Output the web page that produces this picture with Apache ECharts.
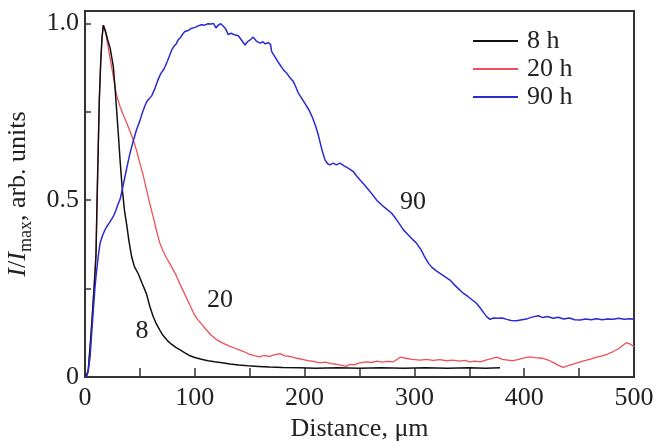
<!DOCTYPE html>
<html>
<head>
<meta charset="utf-8">
<script src="https://cdn.jsdelivr.net/npm/echarts@6/dist/echarts.min.js"></script>
<style>
  html, body { margin: 0; padding: 0; background: #fff; }
  #chart { width: 656px; height: 443px; }
</style>
</head>
<body>
<div id="chart"></div>
<script>
// distance (um) vs normalised intensity
var curve8h = [
  [0, 0], [2, 0.01], [3, 0.02], [5, 0.1], [7, 0.19], [9, 0.29], [10, 0.345], [11, 0.5], [12, 0.64],
  [13, 0.78], [14.3, 0.89], [15.5, 0.96], [16.7, 0.995], [17.5, 1.0], [18.5, 0.98], [20.5, 0.955],
  [22.9, 0.93], [25.8, 0.878], [27.3, 0.82], [28.8, 0.755], [30.5, 0.68], [32, 0.61], [34, 0.53],
  [36, 0.47], [38, 0.43], [40, 0.385], [42.5, 0.34], [45, 0.312], [48.5, 0.292], [52, 0.265],
  [56, 0.235], [59, 0.2], [62, 0.172], [65, 0.15], [68, 0.133], [71, 0.118], [75, 0.103],
  [79, 0.092], [83, 0.083], [87, 0.076], [91, 0.068], [95, 0.061], [100, 0.055], [106, 0.05],
  [112, 0.046], [118, 0.043], [125, 0.04], [132, 0.037], [140, 0.034], [148, 0.032], [158, 0.03],
  [168, 0.028], [180, 0.027], [195, 0.026], [210, 0.025], [230, 0.026], [250, 0.025], [270, 0.026],
  [290, 0.025], [310, 0.026], [330, 0.025], [350, 0.026], [365, 0.025], [378, 0.026]
];

var curve20h = [
  [0, 0], [2, 0.01], [3, 0.02], [5, 0.1], [7, 0.19], [9, 0.29], [10, 0.345], [11, 0.5], [12, 0.64],
  [13, 0.78], [14.3, 0.89], [15.5, 0.96], [16.7, 0.995], [17.5, 1.0], [19, 0.97], [21, 0.935],
  [23.5, 0.89], [25.8, 0.85], [28.5, 0.8], [31.9, 0.765], [35, 0.74], [38, 0.718], [41, 0.695],
  [44, 0.67], [47, 0.64], [50, 0.605], [53, 0.57], [56, 0.53], [59, 0.49], [62, 0.454], [65, 0.415],
  [68, 0.38], [71, 0.357], [74, 0.338], [77, 0.322], [80, 0.305], [83, 0.288], [86.5, 0.262],
  [90, 0.24], [93, 0.22], [96, 0.2], [99, 0.18], [102, 0.165], [106, 0.15], [110, 0.135],
  [115, 0.118], [120, 0.105], [126, 0.095], [131, 0.088], [136, 0.082], [141, 0.076], [146, 0.07],
  [150, 0.064], [155, 0.06], [159, 0.057], [163, 0.061], [168, 0.058], [173, 0.063], [177.6, 0.066],
  [182, 0.06], [187, 0.058], [192.8, 0.053], [198, 0.05], [203, 0.046], [208, 0.044], [214, 0.04],
  [219, 0.042], [224, 0.038], [229, 0.036], [234, 0.033], [238, 0.03], [241, 0.036], [245, 0.034],
  [250, 0.04], [256.5, 0.043], [261, 0.041], [266, 0.045], [271, 0.042], [276, 0.044], [281, 0.043],
  [287, 0.056], [292, 0.053], [298, 0.05], [305, 0.048], [311, 0.05], [317, 0.047], [323, 0.049],
  [329, 0.046], [335, 0.048], [341, 0.045], [346, 0.047], [350.6, 0.043], [355, 0.045], [360, 0.043],
  [365, 0.048], [370, 0.052], [375, 0.056], [380, 0.05], [385, 0.048], [390, 0.046], [395, 0.05],
  [400, 0.054], [405, 0.057], [410, 0.055], [417, 0.053], [422, 0.048], [427, 0.04], [431, 0.033],
  [435.6, 0.027], [440, 0.032], [446, 0.038], [451, 0.043], [456, 0.047], [461, 0.051], [466, 0.056],
  [471, 0.06], [476, 0.065], [481, 0.072], [486, 0.08], [490, 0.09], [493, 0.097], [496, 0.094],
  [500, 0.086]
];

var curve90h = [
  [0, 0], [2, 0.005], [3, 0.02], [4.6, 0.057], [6, 0.12], [7.6, 0.19], [9, 0.25], [10, 0.284],
  [12, 0.34], [13.7, 0.378], [16, 0.4], [18, 0.415], [19.8, 0.425], [22, 0.435], [25.8, 0.454],
  [28, 0.47], [30, 0.488], [32, 0.503], [34, 0.53], [36.4, 0.567], [39, 0.605], [41, 0.633],
  [44, 0.668], [47, 0.7], [50, 0.725], [52, 0.745], [54.6, 0.767], [56.5, 0.78], [58, 0.785],
  [60.7, 0.795], [63.8, 0.817], [66.8, 0.843], [69, 0.858], [71.3, 0.868], [73, 0.878], [75, 0.893],
  [77.4, 0.912], [79, 0.925], [81, 0.935], [83, 0.942], [85, 0.954], [87, 0.96], [89, 0.97],
  [91, 0.977], [94, 0.98], [97, 0.986], [100, 0.988], [103, 0.993], [106, 0.996], [109, 0.995],
  [112, 0.999], [115, 0.998], [117, 1.0], [119.3, 0.987], [121, 0.994], [123.6, 0.999], [126, 0.992],
  [128, 0.985], [130.5, 0.968], [133, 0.972], [136, 0.968], [139.6, 0.965], [142, 0.955],
  [145.7, 0.939], [148, 0.948], [151, 0.955], [153.3, 0.961], [156, 0.95], [159.4, 0.944],
  [162, 0.948], [164, 0.942], [167, 0.946], [169, 0.94], [170, 0.92], [173, 0.905], [176, 0.89],
  [180.6, 0.869], [184, 0.858], [187, 0.845], [189.7, 0.836], [192, 0.82], [194.3, 0.803],
  [197, 0.79], [200, 0.775], [204, 0.755], [207, 0.735], [210, 0.71], [212, 0.69], [214, 0.665],
  [216, 0.64], [218.6, 0.614], [221, 0.603], [223, 0.6], [226, 0.605], [229, 0.6], [232.2, 0.605],
  [236, 0.597], [240, 0.59], [244.4, 0.581], [247, 0.57], [250.5, 0.557], [254, 0.545], [258, 0.53],
  [262, 0.515], [265.7, 0.5], [270, 0.487], [275, 0.474], [279.3, 0.463], [283, 0.448], [287, 0.43],
  [290, 0.416], [294, 0.403], [298, 0.39], [302, 0.378], [306, 0.36], [309, 0.342], [312.7, 0.322],
  [316, 0.31], [320, 0.3], [323.3, 0.293], [328, 0.283], [332.4, 0.274], [336, 0.262], [340, 0.25],
  [344.5, 0.237], [349, 0.227], [353, 0.217], [356.7, 0.208], [360, 0.195], [363, 0.182],
  [366, 0.17], [368.9, 0.163], [372, 0.167], [376, 0.166], [380, 0.167], [384, 0.163], [388, 0.16],
  [393, 0.159], [398, 0.162], [403, 0.165], [408, 0.17], [412.8, 0.173], [417, 0.168], [421, 0.171],
  [426.5, 0.166], [431, 0.169], [436, 0.164], [441, 0.167], [446, 0.162], [451, 0.161], [456, 0.164],
  [461, 0.162], [466, 0.165], [471, 0.162], [476, 0.164], [481, 0.163], [486, 0.166], [491, 0.163],
  [496, 0.165], [500, 0.164]
];

var seriesNames = ['8 h', '20 h', '90 h'];
var seriesColors = ['#111111', '#ec5058', '#2a2ad2'];
// curve labels "8", "20", "90" placed in data units
var curveTags = ['8', '20', '90'];
var tagPos = [[52, 0.13], [123, 0.218], [298.7, 0.495]];
var xTicks = [0, 100, 200, 300, 400, 500];
var yTicks = [0, 0.5, 1.0];

var font = 'Liberation Serif';
var chart = echarts.init(document.getElementById('chart'));

var curves = [curve8h, curve20h, curve90h];
var series = curves.map(function (d, i) {
  return {
    name: seriesNames[i],
    type: 'line',
    data: d,
    symbol: 'none',
    smooth: false,
    lineStyle: { color: seriesColors[i], width: i === 1 ? 1.3 : 1.5 },
    itemStyle: { color: seriesColors[i] },
    z: i === 2 ? 4 : 3 - i,
    markPoint: {
      symbol: 'circle',
      symbolSize: 0,
      silent: true,
      label: {
        show: true,
        formatter: curveTags[i],
        color: '#222',
        fontFamily: font,
        fontSize: 26,
        position: 'inside'
      },
      data: [{ coord: tagPos[i] }]
    }
  };
});

chart.setOption({
  animation: false,
  grid: {
    left: 85, right: 22, top: 11, bottom: 66,
    containLabel: false, outerBoundsMode: 'none',
    show: true, borderColor: '#333', borderWidth: 2, backgroundColor: 'transparent'
  },
  legend: {
    orient: 'vertical',
    left: 468, top: 23,
    icon: 'rect',
    itemWidth: 45, itemHeight: 2, itemGap: 2,
    textStyle: { fontFamily: font, fontSize: 26, color: '#222', lineHeight: 26, padding: [0, 0, 0, 4] },
    data: seriesNames
  },
  xAxis: {
    type: 'value',
    min: 0, max: 500, interval: 50,
    name: 'Distance, μm',
    nameLocation: 'middle',
    nameGap: 38,
    nameTextStyle: { fontFamily: font, fontSize: 26, color: '#222', verticalAlign: 'top' },
    axisLine: { show: true, lineStyle: { color: '#333', width: 2 } },
    axisTick: { show: true, inside: true, length: 9, lineStyle: { color: '#333', width: 1.5 } },
    splitLine: { show: false },
    axisLabel: {
      fontFamily: font, fontSize: 26, color: '#222', margin: 8,
      formatter: function (v) { return xTicks.indexOf(v) >= 0 ? String(v) : ''; }
    }
  },
  yAxis: {
    type: 'value',
    min: 0, max: 1.035, interval: 0.25,
    name: '{i|I}/{i|I}{sub|max}, arb. units',
    nameLocation: 'middle',
    nameGap: 46,
    nameTextStyle: {
      fontFamily: font, fontSize: 26, color: '#222', lineHeight: 34,
      rich: {
        i: { fontFamily: font, fontSize: 26, fontStyle: 'italic', color: '#222', lineHeight: 34 },
        sub: { fontFamily: font, fontSize: 18, color: '#222', lineHeight: 18, verticalAlign: 'bottom' }
      }
    },
    axisLine: { show: true, lineStyle: { color: '#333', width: 2 } },
    axisTick: { show: true, inside: true, length: 6, lineStyle: { color: '#333', width: 1.5 } },
    splitLine: { show: false },
    axisLabel: {
      fontFamily: font, fontSize: 26, color: '#222', margin: 6, showMaxLabel: false,
      formatter: function (v) {
        for (var k = 0; k < yTicks.length; k++) {
          if (Math.abs(v - yTicks[k]) < 1e-6) return v === 0 ? '0' : v.toFixed(1);
        }
        return '';
      }
    }
  },
  series: series
});
</script>
</body>
</html>
